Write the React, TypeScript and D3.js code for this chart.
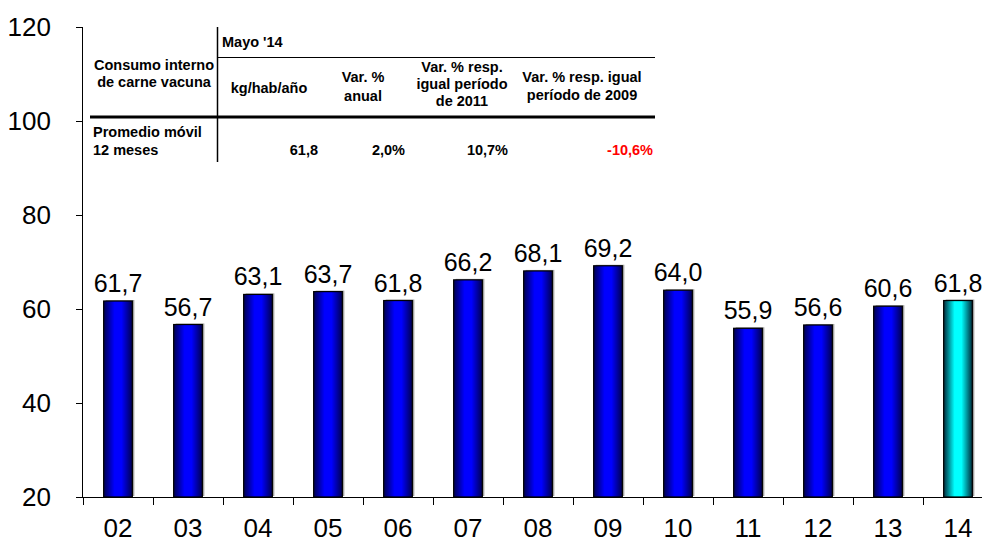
import React from "react";
import * as d3 from "d3";

const categories = ["02", "03", "04", "05", "06", "07", "08", "09", "10", "11", "12", "13", "14"];
const values = [61.7, 56.7, 63.1, 63.7, 61.8, 66.2, 68.1, 69.2, 64.0, 55.9, 56.6, 60.6, 61.8];
const yTicks = [20, 40, 60, 80, 100, 120];
const highlightCategory = "14";

const tableRowHeader = ["Consumo interno", "de carne vacuna"];
const tablePeriod = "Mayo '14";
const tableColHeaders = [
  ["kg/hab/año"],
  ["Var. %", "anual"],
  ["Var. % resp.", "igual período", "de 2011"],
  ["Var. % resp. igual", "período de 2009"],
];
const tableRowLabel = ["Promedio móvil", "12 meses"];
const tableValues = ["61,8", "2,0%", "10,7%", "-10,6%"];

const W = 982;
const H = 543;
const FONT = "'Liberation Sans', Arial, sans-serif";

export default function App() {
  const x = d3.scaleBand<string>().domain(categories).range([83, 993]);
  const y = d3.scaleLinear().domain([20, 120]).range([497, 27]);
  const bw = x.bandwidth() * 0.41;
  const fmt = (v: number) => v.toFixed(1).replace(".", ",");

  const colCenters = [269, 363, 462, 582];
  const colRights = [318, 405, 508, 653];
  const colBaselines = [[93], [82, 101], [72, 89, 106], [82, 100]];

  return (
    <svg width={W} height={H} style={{ position: "absolute", left: 0, top: 0, background: "#fff" }} fontFamily={FONT}>
      <defs>
        <linearGradient id="gBlue" x1="0" x2="1" y1="0" y2="0">
          <stop offset="0" stopColor="#000050" />
          <stop offset="0.38" stopColor="#0000ff" />
          <stop offset="0.62" stopColor="#0000ff" />
          <stop offset="1" stopColor="#000050" />
        </linearGradient>
        <linearGradient id="gCyan" x1="0" x2="1" y1="0" y2="0">
          <stop offset="0" stopColor="#002a3a" />
          <stop offset="0.38" stopColor="#00ffff" />
          <stop offset="0.62" stopColor="#00ffff" />
          <stop offset="1" stopColor="#002a3a" />
        </linearGradient>
      </defs>

      {/* y axis */}
      <line x1={82.5} x2={82.5} y1={y(120)} y2={y(20)} stroke="#000" strokeWidth={1} />
      {yTicks.map((t) => (
        <g key={t}>
          <line x1={76} x2={82.5} y1={y(t) + 0.5} y2={y(t) + 0.5} stroke="#000" />
          <text x={51} y={y(t) + 9} textAnchor="end" fontSize={26} fill="#000">
            {t}
          </text>
        </g>
      ))}

      {/* x axis */}
      <line x1={82} x2={W} y1={y(20) + 0.5} y2={y(20) + 0.5} stroke="#000" />
      {categories.map((c) => (
        <line key={"t" + c} x1={(x(c) as number) + 0.5} x2={(x(c) as number) + 0.5} y1={y(20)} y2={y(20) + 8} stroke="#000" />
      ))}
      {categories.map((c) => (
        <text key={"l" + c} x={(x(c) as number) + x.bandwidth() / 2} y={537} textAnchor="middle" fontSize={26} fill="#000">
          {c}
        </text>
      ))}

      {/* bars */}
      {categories.map((c, i) => {
        const cx = (x(c) as number) + x.bandwidth() / 2;
        const top = y(values[i]);
        const bottom = y(20);
        return (
          <g key={"b" + c}>
            <rect x={cx - bw / 2 + 2} y={top - 1} width={bw} height={bottom - top} fill="#a0a0a0" />
            <rect
              x={cx - bw / 2}
              y={top}
              width={bw}
              height={bottom - top}
              fill={c === highlightCategory ? "url(#gCyan)" : "url(#gBlue)"}
              stroke="#000"
              strokeWidth={1.2}
            />
            <text x={cx} y={top - 9} textAnchor="middle" fontSize={25} fill="#000">
              {fmt(values[i])}
            </text>
          </g>
        );
      })}

      {/* table */}
      <g fontWeight="bold" fontSize={14.5} fill="#000">
        <line x1={217.5} x2={217.5} y1={27} y2={162} stroke="#000" strokeWidth={1.5} />
        <line x1={218} x2={655} y1={57.5} y2={57.5} stroke="#000" strokeWidth={1.2} />
        <line x1={90} x2={655} y1={117} y2={117} stroke="#000" strokeWidth={3} />
        <text x={222} y={47}>{tablePeriod}</text>
        {tableRowHeader.map((t, i) => (
          <text key={"rh" + i} x={154} y={70 + i * 17} textAnchor="middle">{t}</text>
        ))}
        {tableColHeaders.map((lines, ci) =>
          lines.map((t, li) => (
            <text key={"ch" + ci + "-" + li} x={colCenters[ci]} y={colBaselines[ci][li]} textAnchor="middle">{t}</text>
          ))
        )}
        {tableRowLabel.map((t, i) => (
          <text key={"rl" + i} x={93} y={137 + i * 18}>{t}</text>
        ))}
        {tableValues.map((t, i) => (
          <text key={"tv" + i} x={colRights[i]} y={155} textAnchor="end" fill={t.startsWith("-") ? "#ff0000" : "#000"}>{t}</text>
        ))}
      </g>
    </svg>
  );
}
